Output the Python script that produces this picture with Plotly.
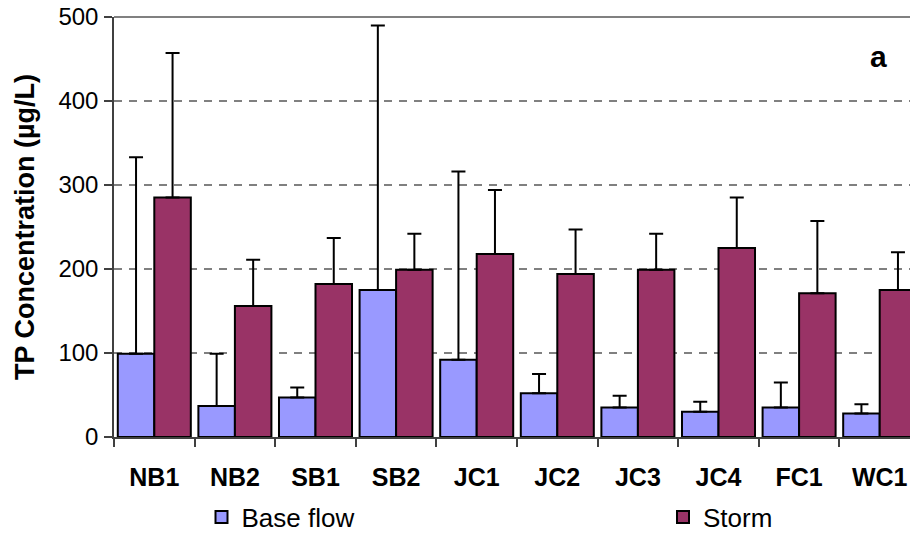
import plotly.graph_objects as go

sites = ["NB1", "NB2", "SB1", "SB2", "JC1", "JC2", "JC3", "JC4", "FC1", "WC1"]
base_flow = [99, 37, 47, 175, 92, 52, 35, 30, 35, 28]
base_err = [234, 62, 12, 315, 224, 23, 14, 12, 30, 11]
storm = [285, 156, 182, 199, 218, 194, 199, 225, 171, 175]
storm_err = [172, 55, 55, 43, 76, 53, 43, 60, 86, 45]
y_ticks = [0, 100, 200, 300, 400, 500]

FONT = "Liberation Sans, Arial, sans-serif"
W, H = 912, 534

fig = go.Figure()
fig.add_trace(go.Bar(
    x=sites, y=base_flow, name="Base flow", legend="legend",
    marker=dict(color="#9999FF", line=dict(color="black", width=2)),
    error_y=dict(type="data", symmetric=False, array=base_err,
                 arrayminus=[0] * len(sites), color="black", thickness=2, width=7),
))
fig.add_trace(go.Bar(
    x=sites, y=storm, name="Storm", legend="legend2",
    marker=dict(color="#993366", line=dict(color="black", width=2)),
    error_y=dict(type="data", symmetric=False, array=storm_err,
                 arrayminus=[0] * len(sites), color="black", thickness=2, width=7),
))

fig.add_shape(type="line", xref="paper", yref="paper", x0=0, x1=1, y0=1, y1=1,
              line=dict(color="#808080", width=2), layer="above")

fig.add_annotation(text="<b>a</b>", xref="paper", yref="y", x=775 / 806, y=453,
                   showarrow=False, font=dict(family=FONT, size=30, color="black"))

leg_common = dict(orientation="h", xref="container", yref="container",
                  xanchor="left", yanchor="middle",
                  font=dict(family=FONT, size=26, color="black"),
                  bgcolor="rgba(0,0,0,0)")

fig.update_layout(
    width=W, height=H,
    margin=dict(l=106, r=0, t=9, b=105, autoexpand=False),
    paper_bgcolor="white", plot_bgcolor="white",
    barmode="group", bargap=0.094, bargroupgap=0,
    font=dict(family=FONT, color="black"),
    showlegend=True,
    legend=dict(x=193.5 / W, y=(H - 509) / H, **leg_common),
    legend2=dict(x=655 / W, y=(H - 509) / H, **leg_common),
    xaxis=dict(
        range=[-0.5, 9.5], automargin=False,
        showline=True, linecolor="#404040", linewidth=1.5,
        ticks="outside", tickson="boundaries", ticklen=8, tickcolor="#404040", tickwidth=1.5,
        tickfont=dict(family=FONT, size=25, color="black"),
        tickprefix="<b>", ticksuffix="</b>",
        ticklabelstandoff=17, ticklabeloverflow="allow",
        showgrid=False, zeroline=False,
    ),
    yaxis=dict(
        range=[0, 500], tickvals=y_ticks, automargin=False,
        showline=True, linecolor="#404040", linewidth=1.5,
        ticks="outside", ticklen=8, tickcolor="#404040", tickwidth=1.5,
        tickfont=dict(family=FONT, size=24, color="black"),
        ticklabelstandoff=1, ticklabeloverflow="allow",
        showgrid=True, gridcolor="#808080", gridwidth=1.5, griddash="8px,7px",
        zeroline=False,
        title=dict(text="<b>TP Concentration (µg/L)</b>", standoff=16,
                   font=dict(family=FONT, size=27, color="black")),
    ),
)

fig.write_html("out.html")
